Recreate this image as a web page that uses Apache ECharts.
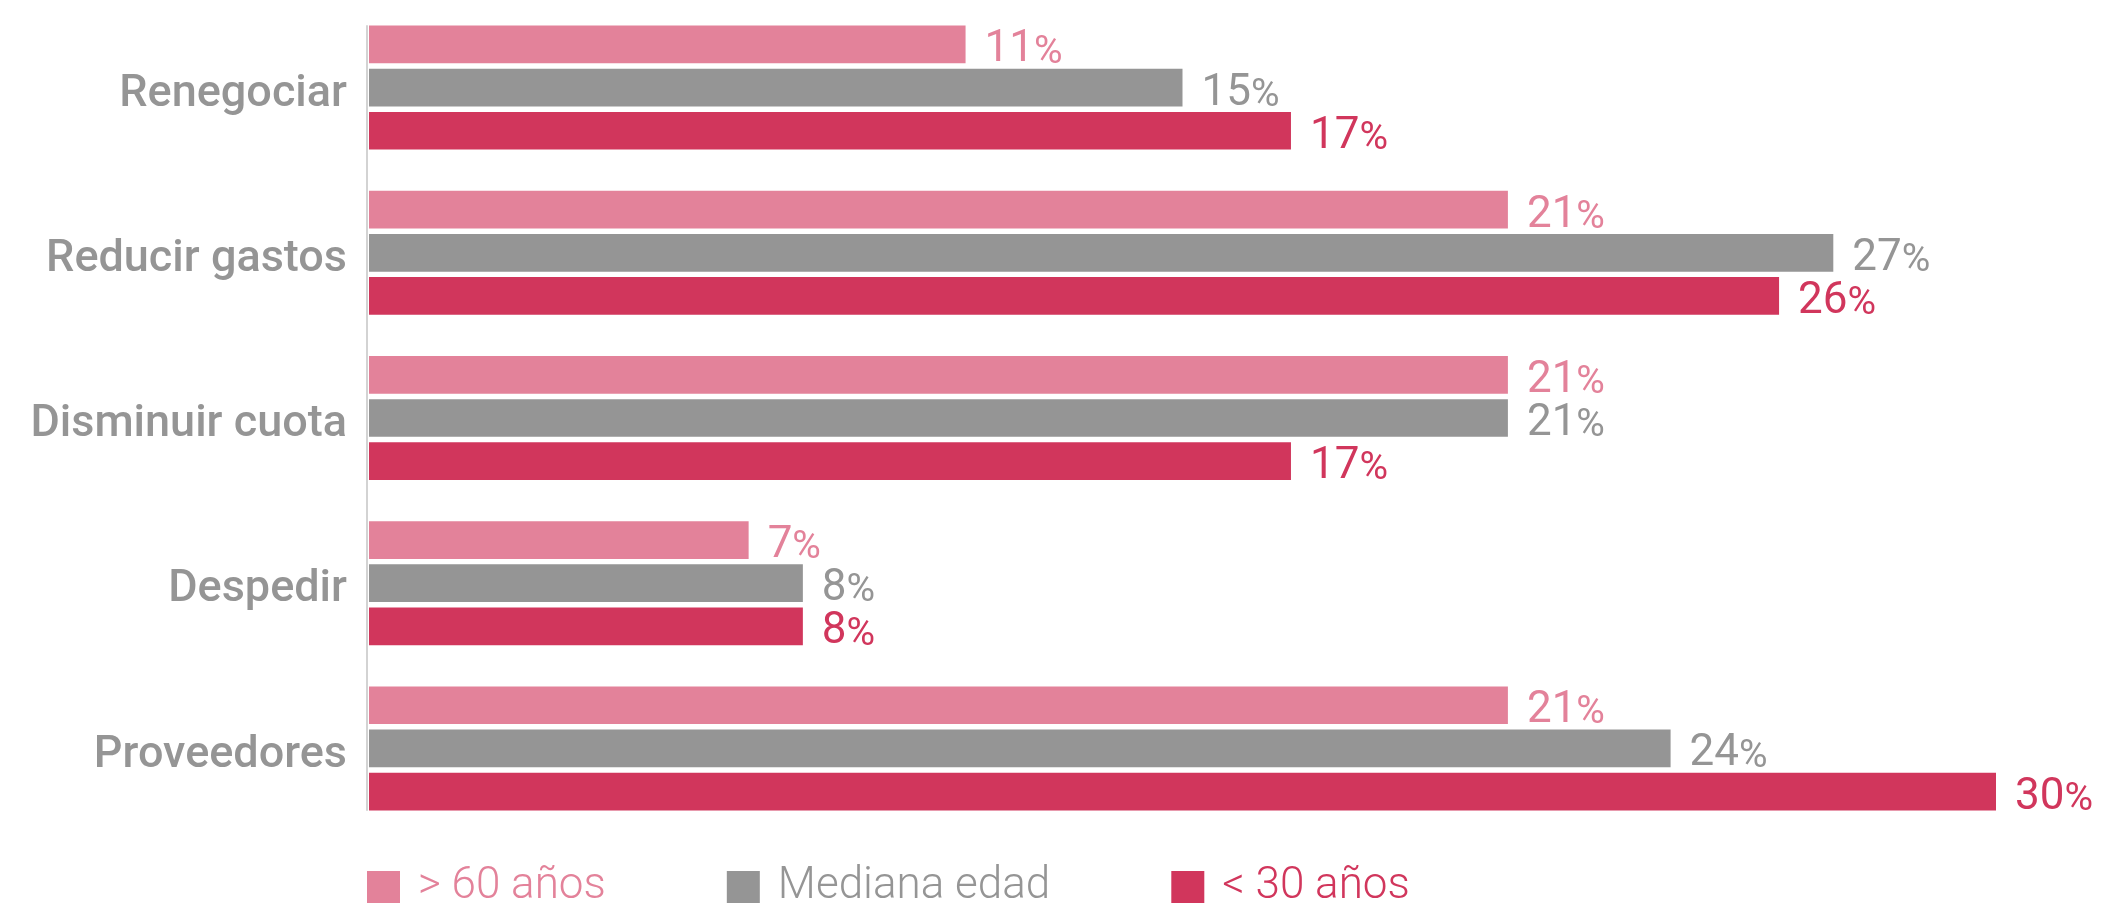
<!DOCTYPE html>
<html>
<head>
<meta charset="utf-8">
<title>Medidas</title>
<script src="https://cdn.jsdelivr.net/npm/echarts@6/dist/echarts.min.js"></script>
<style>
  html, body { margin: 0; padding: 0; background: #fff; }
  #chart { width: 2110px; height: 906px; }
</style>
</head>
<body>
<div id="chart"></div>
<script>
// datos
var categorias = ['Renegociar', 'Reducir gastos', 'Disminuir cuota', 'Despedir', 'Proveedores']
var nombres = ['> 60 años', 'Mediana edad', '< 30 años']
var mayores60 = [11, 21, 21, 7, 21]
var mediana = [15, 27, 21, 8, 24]
var menores30 = [17, 26, 17, 8, 30]
var colores = ['#e3829a', '#959595', '#d1365c']
var fuente = 'Roboto, "Noto Sans", sans-serif'

function serie (nombre, datos, color) {
  return {
    name: nombre,
    type: 'bar',
    data: datos,
    barWidth: 37.7,
    barGap: '14.5%',
    itemStyle: { color: color },
    label: {
      show: true,
      position: 'right',
      distance: 19,
      offset: [0, 6],
      formatter: function (p) {
        return '{v|' + p.value + '}{p|%}'
      },
      rich: {
        v: { fontSize: 44, fontFamily: fuente, color: color, verticalAlign: 'bottom', lineHeight: 44 },
        p: { fontSize: 39, fontFamily: fuente, color: color, verticalAlign: 'bottom', lineHeight: 44 }
      }
    }
  }
}

var mychart = echarts.init(document.getElementById('chart'))
mychart.setOption({
  animation: false,
  grid: [
    { left: 369, right: 114, top: 5, bottom: 75 },
    // solo para la linea del eje, que va del primer al ultimo bar
    { left: 367, right: 114, top: 26, bottom: 96 }
  ],
  legend: {
    left: 367,
    top: 865,
    padding: 0,
    icon: 'rect',
    itemWidth: 33,
    itemHeight: 32,
    itemGap: 121,
    textStyle: {
      fontSize: 44,
      fontWeight: 300,
      fontFamily: fuente,
      padding: [0, 0, 0, 13]
    },
    data: nombres.map(function (n, i) {
      return { name: n, textStyle: { color: colores[i] } }
    })
  },
  xAxis: [
    { type: 'value', min: 0, max: 30, show: false },
    { type: 'value', gridIndex: 1, min: 0, max: 1, show: false }
  ],
  yAxis: [
    {
      type: 'category',
      data: categorias,
      inverse: true,
      axisLine: { show: false },
      axisTick: { show: false },
      axisLabel: {
        margin: 22,
        formatter: function (v) {
          return '{c|' + v + '}'
        },
        rich: {
          c: {
            fontSize: 45,
            fontWeight: 500,
            fontFamily: fuente,
            color: '#959595',
            padding: [14, 0, 0, 0]
          }
        }
      }
    },
    {
      type: 'value',
      gridIndex: 1,
      min: 0,
      max: 1,
      axisLine: { show: true, lineStyle: { color: '#d3d3d3', width: 2 } },
      axisTick: { show: false },
      axisLabel: { show: false },
      splitLine: { show: false }
    }
  ],
  series: [
    serie(nombres[0], mayores60, colores[0]),
    serie(nombres[1], mediana, colores[1]),
    serie(nombres[2], menores30, colores[2])
  ]
})
</script>
</body>
</html>
